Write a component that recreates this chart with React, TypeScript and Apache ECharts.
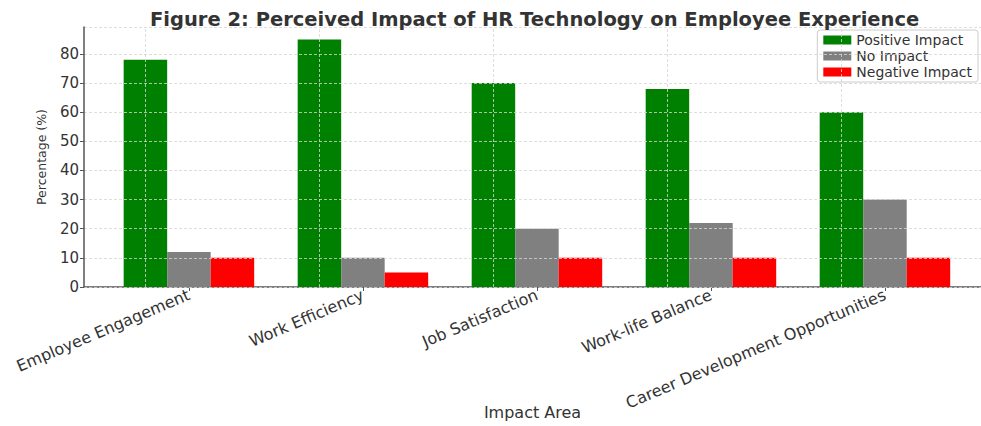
import React, { useEffect, useRef } from "react";
import * as echarts from "echarts";

const categories = [
  "Employee Engagement",
  "Work Efficiency",
  "Job Satisfaction",
  "Work-life Balance",
  "Career Development Opportunities",
];
const positiveImpact = [78, 85, 70, 68, 60];
const noImpact = [12, 10, 20, 22, 30];
const negativeImpact = [10, 5, 10, 10, 10];
const seriesNames = ["Positive Impact", "No Impact", "Negative Impact"];
const seriesColors = ["#008000", "#808080", "#ff0000"];
const catIdx = categories.map((_, i) => i);

const FONT = "DejaVu Sans";

export default function App() {
  const ref = useRef<HTMLDivElement>(null);
  useEffect(() => {
    if (!ref.current) return;
    const chart = echarts.init(ref.current, null, { renderer: "svg" });
    const values = [positiveImpact, noImpact, negativeImpact];
    const gridLine = { color: "#d6d6d6", type: [3, 2] as any, width: 0.8 };
    chart.setOption({
      animation: false,
      backgroundColor: "#ffffff",
      title: {
        text: "Figure 2: Perceived Impact of HR Technology on Employee Experience",
        left: 145,
        top: 4,
        textStyle: { fontFamily: FONT, fontWeight: "bold", fontSize: 19.5, color: "#333" },
      },
      legend: {
        orient: "vertical",
        right: 3,
        top: 30,
        icon: "rect",
        itemWidth: 28,
        itemHeight: 9,
        itemGap: 2,
        padding: [3, 6, 3, 6],
        backgroundColor: "#ffffff",
        borderColor: "#cccccc",
        borderWidth: 1,
        borderRadius: 3,
        textStyle: { fontFamily: FONT, fontSize: 14, color: "#333" },
        data: seriesNames,
      },
      grid: {
        left: 84,
        right: 0,
        top: 27,
        bottom: 139,
        containLabel: false,
        outerBoundsMode: "none",
      },
      xAxis: {
        type: "value",
        min: -0.603,
        max: 4.552,
        name: "Impact Area",
        nameLocation: "middle",
        nameGap: 117,
        nameMoveOverlap: false,
        nameTextStyle: { fontFamily: FONT, fontSize: 16, color: "#333" },
        axisLine: { show: true, onZero: false, lineStyle: { color: "#555", width: 1.5 } },
        axisTick: { show: true, customValues: catIdx, length: 4, lineStyle: { color: "#555" } },
        axisLabel: {
          customValues: catIdx,
          rotate: 23,
          margin: 7,
          fontFamily: FONT,
          fontSize: 16,
          color: "#333",
          formatter: (v: number) => categories[Math.round(v)] ?? "",
        },
        splitLine: { show: false },
      },
      yAxis: {
        type: "value",
        min: 0,
        max: 89.25,
        interval: 10,
        z: 5,
        name: "Percentage (%)",
        nameLocation: "middle",
        nameGap: 36,
        nameMoveOverlap: false,
        nameTextStyle: { fontFamily: FONT, fontSize: 12.5, color: "#333" },
        axisLine: { show: true, onZero: false, lineStyle: { color: "#555", width: 1.5 } },
        axisTick: { show: true, length: 4, lineStyle: { color: "#555" } },
        axisLabel: {
          fontFamily: FONT,
          fontSize: 15,
          color: "#333",
          margin: 5,
          showMaxLabel: false,
          formatter: (v: number) => (v % 10 === 0 && v <= 80 ? String(v) : ""),
        },
        splitLine: { show: true, lineStyle: gridLine },
      },
      series: seriesNames.map((name, s) => ({
        name,
        type: "bar",
        barWidth: "25%",
        barGap: "0%",
        itemStyle: { color: seriesColors[s] },
        data: values[s].map((v, i) => [catIdx[i], v]),
        markLine:
          s === 0
            ? {
                silent: true,
                symbol: "none",
                label: { show: false },
                lineStyle: gridLine,
                data: catIdx.map((i) => ({ xAxis: i })),
                z: 5,
              }
            : undefined,
      })),
    });
    return () => chart.dispose();
  }, []);
  return (
    <div
      ref={ref}
      style={{ position: "fixed", left: 0, top: 0, width: 981, height: 426 }}
    />
  );
}
